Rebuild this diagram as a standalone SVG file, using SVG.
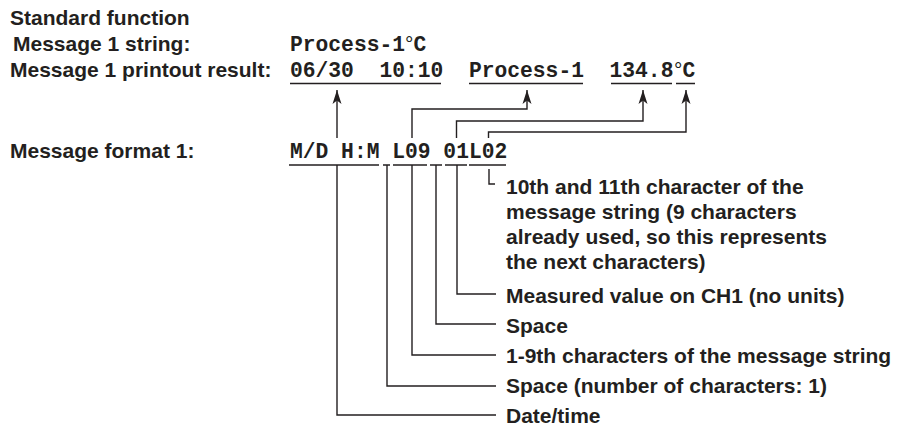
<svg xmlns="http://www.w3.org/2000/svg" width="904" height="430" viewBox="0 0 904 430">
  <style>
    .lbl { font-family: "Liberation Sans", Arial, sans-serif; font-weight: bold; font-size: 21px; fill: #231f20; }
    .mono { font-family: "Liberation Mono", "Courier New", monospace; font-weight: bold; font-size: 21.3px; fill: #231f20; }
    .deg { font-family: "Liberation Sans", Arial, sans-serif; font-weight: normal; font-size: 21px; }
    .ln { fill: none; stroke: #231f20; stroke-width: 1.4; }
  </style>
  <defs>
    <marker id="arr" markerUnits="userSpaceOnUse" markerWidth="16" markerHeight="10" viewBox="-15 -5 16 10" refX="0" refY="0" orient="auto">
      <path d="M0,0 L-14,-4.5 L-10.5,0 L-14,4.5 Z" fill="#231f20"/>
    </marker>
  </defs>
  <rect width="904" height="430" fill="#ffffff"/>

  <g id="header">
    <text class="lbl" x="10" y="25">Standard function</text>
    <text class="lbl" x="13" y="51">Message 1 string:</text>
    <text class="lbl" x="10" y="77">Message 1 printout result:</text>
    <text class="lbl" x="10" y="158">Message format 1:</text>
  </g>

  <g id="message-string">
    <text class="mono" x="290" y="51" xml:space="preserve">Process-1<tspan class="deg">°</tspan>C</text>
  </g>

  <g id="printout">
    <text class="mono" x="290" y="77" xml:space="preserve">06/30  10:10  Process-1  134.8</text>
    <text class="mono" x="674" y="77"><tspan class="deg">°</tspan>C</text>
    <path class="ln" d="M290,83.5 H441 M469,83.5 H583 M611,83.5 H672 M676,83.5 H695"/>
  </g>

  <g id="format">
    <text class="mono" x="290" y="158" xml:space="preserve">M/D H:M L09 01L02</text>
    <path class="ln" d="M289,165 H379 M383,165 H390 M393,165 H427 M430,165 H442 M445,165 H467 M469,165 H506"/>
  </g>

  <g id="descriptions">
    <text class="lbl" x="506" y="194">10th and 11th character of the</text>
    <text class="lbl" x="506" y="219">message string (9 characters</text>
    <text class="lbl" x="506" y="244">already used, so this represents</text>
    <text class="lbl" x="506" y="269">the next characters)</text>
    <text class="lbl" x="506" y="303">Measured value on CH1 (no units)</text>
    <text class="lbl" x="506" y="333">Space</text>
    <text class="lbl" x="506" y="363">1-9th characters of the message string</text>
    <text class="lbl" x="506" y="393">Space (number of characters: 1)</text>
    <text class="lbl" x="506" y="423">Date/time</text>
  </g>

  <g id="connectors">
    <path class="ln" marker-end="url(#arr)" d="M337,138 V90"/>
    <path class="ln" marker-end="url(#arr)" d="M412,138 V109 H527 V90"/>
    <path class="ln" marker-end="url(#arr)" d="M456.5,138 V121 H643 V90"/>
    <path class="ln" marker-end="url(#arr)" d="M488.5,138 V132 H686 V90"/>
    <path class="ln" d="M337,165 V415 H496"/>
    <path class="ln" d="M387,165 V386 H496"/>
    <path class="ln" d="M412,165 V355 H496"/>
    <path class="ln" d="M436,165 V324 H496"/>
    <path class="ln" d="M457,165 V294 H496"/>
    <path class="ln" d="M489,169 V184 H495"/>
  </g>
</svg>
